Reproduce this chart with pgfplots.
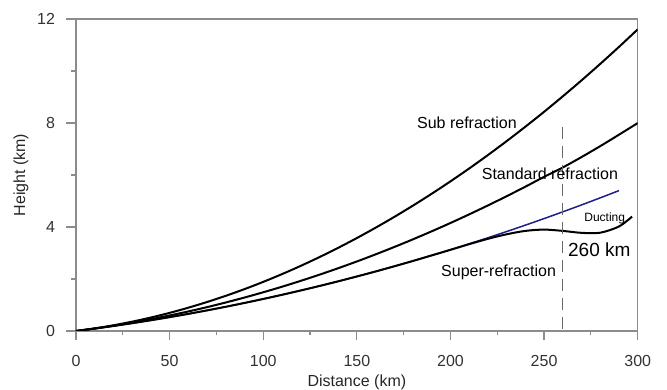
\documentclass[border=0pt]{standalone}
\usepackage{fontspec}
\setmainfont{Liberation Sans}
\usepackage{pgfplots}
\pgfplotsset{compat=1.18}
\definecolor{axgray}{RGB}{140,140,140}
\definecolor{dashgray}{RGB}{105,105,105}
\definecolor{ductblue}{RGB}{30,30,140}
\begin{document}
\begin{tikzpicture}
\begin{axis}[
  at={(0,0)}, anchor=south west,
  scale only axis, width=561.7pt, height=312pt,
  xmin=0, xmax=300, ymin=0, ymax=12,
  xtick={0,50,...,300}, ytick={0,4,8,12},
  minor x tick num=1, minor y tick num=1,
  tick pos=left, tick align=outside,
  major tick length=9.5pt, minor tick length=4.5pt,
  axis line style={axgray, line width=1.2pt},
  tick style={axgray, line width=1.2pt},
  /pgf/number format/assume math mode=true,
  ticklabel style={font=\fontsize{16}{19}\selectfont, text=black!80},
  yticklabel style={xshift=-8pt},
  xticklabel style={yshift=-11pt},
  xlabel={Distance (km)}, ylabel={Height (km)},
  label style={font=\fontsize{16}{19}\selectfont, text=black!85},
  xlabel style={at={(axis description cs:0.5,-0.165)}, anchor=center},
  ylabel style={at={(axis description cs:-0.0979,0.5)}, anchor=center},
]
% super-refraction (blue)
\addplot[ductblue, line width=1.5pt, smooth] coordinates {
(0,0) (10,0.0933) (20,0.1933) (30,0.2999) (40,0.4131) (50,0.533) (60,0.659)
(70,0.793) (80,0.932) (90,1.079) (100,1.232) (110,1.392) (120,1.558)
(130,1.731) (140,1.910) (150,2.097) (160,2.289) (170,2.489) (180,2.695)
(190,2.908) (200,3.127) (210,3.353) (220,3.586) (230,3.825) (240,4.071)
(250,4.324) (260,4.583) (270,4.849) (280,5.121) (290,5.400)};
% ducting (black)
\addplot[black, line width=2pt, smooth] coordinates {
(0,0) (10,0.0933) (20,0.1933) (30,0.2999) (40,0.4131) (50,0.533) (60,0.659)
(70,0.793) (80,0.932) (90,1.079) (100,1.232) (110,1.392) (120,1.558)
(130,1.731) (140,1.910) (150,2.097) (160,2.289) (170,2.489) (180,2.695)
(190,2.908) (200,3.122) (210,3.340) (220,3.545) (230,3.720) (240,3.850)
(250,3.900) (260,3.850) (270,3.775) (280,3.780) (290,4.020) (297,4.400)};
% standard refraction
\addplot[black, line width=2pt, smooth] coordinates {
(0,0) (10,0.0959) (20,0.2035) (30,0.323) (40,0.454) (50,0.597) (60,0.752)
(70,0.918) (80,1.097) (90,1.287) (100,1.489) (110,1.702) (120,1.928)
(130,2.165) (140,2.414) (150,2.674) (160,2.947) (170,3.231) (180,3.527)
(190,3.835) (200,4.154) (210,4.486) (220,4.829) (230,5.184) (240,5.550)
(250,5.929) (260,6.290) (270,6.690) (280,7.110) (290,7.550) (300,7.997)};
% sub refraction
\addplot[black, line width=2pt, smooth] coordinates {
(0,0) (10,0.0999) (20,0.2196) (30,0.359) (40,0.518) (50,0.697) (60,0.896)
(70,1.115) (80,1.353) (90,1.611) (100,1.889) (110,2.187) (120,2.504)
(130,2.841) (140,3.198) (150,3.575) (160,3.972) (170,4.388) (180,4.824)
(190,5.280) (200,5.756) (210,6.251) (220,6.767) (230,7.302) (240,7.857)
(250,8.431) (260,9.026) (270,9.640) (280,10.274) (290,10.927) (300,11.601)};
% 260 km marker
\addplot[dashgray, line width=1.2pt, dash pattern=on 12pt off 7pt] coordinates {(260,7.86) (260,0)};
\node[font=\fontsize{16}{19}\selectfont] at (axis cs:208.8,8.01) {Sub refraction};
\node[font=\fontsize{16}{19}\selectfont] at (axis cs:253.1,6.04) {Standard refraction};
\node[font=\fontsize{16}{19}\selectfont] at (axis cs:225.7,2.27) {Super-refraction};
\node[font=\fontsize{12}{14}\selectfont] at (axis cs:282.4,4.33) {Ducting};
\node[font=\fontsize{19}{22}\selectfont] at (axis cs:279.5,3.14) {260 km};
\end{axis}
\pgfresetboundingbox
\useasboundingbox (-76pt,-59pt) rectangle (591pt,331pt);
\end{tikzpicture}
\end{document}
